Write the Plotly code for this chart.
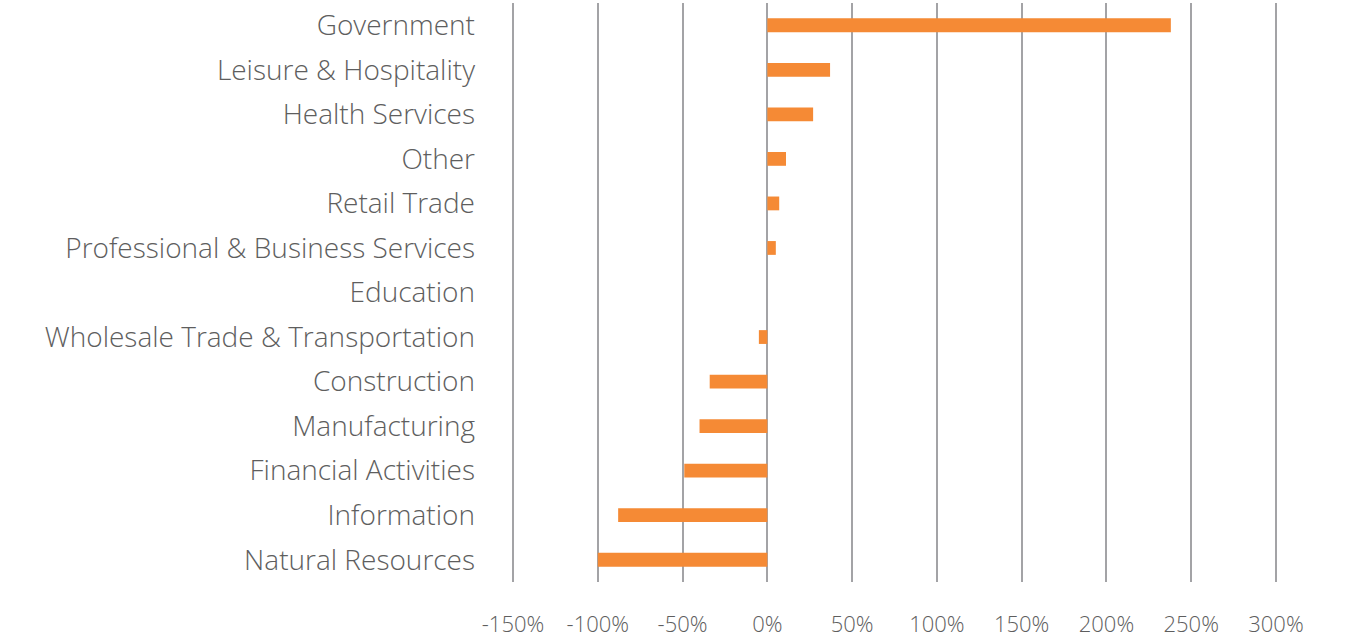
import plotly.graph_objects as go

# Employment change by sector (percent)
sectors = [
    "Government",
    "Leisure & Hospitality",
    "Health Services",
    "Other",
    "Retail Trade",
    "Professional & Business Services",
    "Education",
    "Wholesale Trade & Transportation",
    "Construction",
    "Manufacturing",
    "Financial Activities",
    "Information",
    "Natural Resources",
]
change_pct = [238, 37, 27, 11, 7, 5, 0, -5, -34, -40, -49, -88, -100]

tick_vals = [-150, -100, -50, 0, 50, 100, 150, 200, 250, 300]
tick_text = ["-150%", "-100%", "-50%", "0%", "50%", "100%", "150%", "200%", "250%", "300%"]

BAR = "#F58A35"
GRID = "#A3A3A6"
TEXT = "#5E5E5E"
FONT = "'Open Sans', Lato, sans-serif"

fig = go.Figure(
    go.Bar(
        x=change_pct,
        y=sectors,
        orientation="h",
        marker=dict(color=BAR, line=dict(width=0)),
        width=0.31,
        hoverinfo="x+y",
    )
)

fig.update_layout(
    width=1355,
    height=641,
    margin=dict(l=511, r=77, t=3, b=54),
    paper_bgcolor="white",
    plot_bgcolor="white",
    showlegend=False,
    font=dict(family=FONT, color=TEXT),
)

fig.update_xaxes(
    range=[-151.2, 301.2],
    tickmode="array",
    tickvals=tick_vals,
    ticktext=tick_text,
    showgrid=True,
    gridcolor=GRID,
    gridwidth=2,
    zeroline=True,
    zerolinecolor=GRID,
    zerolinewidth=2,
    showline=False,
    ticks="",
    tickfont=dict(size=22, color=TEXT, family=FONT, weight=300),
    ticklabelstandoff=27,
)

fig.update_yaxes(
    categoryorder="array",
    categoryarray=sectors,
    autorange="reversed",
    showgrid=False,
    zeroline=False,
    showline=False,
    ticks="",
    tickfont=dict(size=28, color=TEXT, family=FONT, weight=300),
    ticklabelstandoff=35,
)

fig.write_html("out.html")
